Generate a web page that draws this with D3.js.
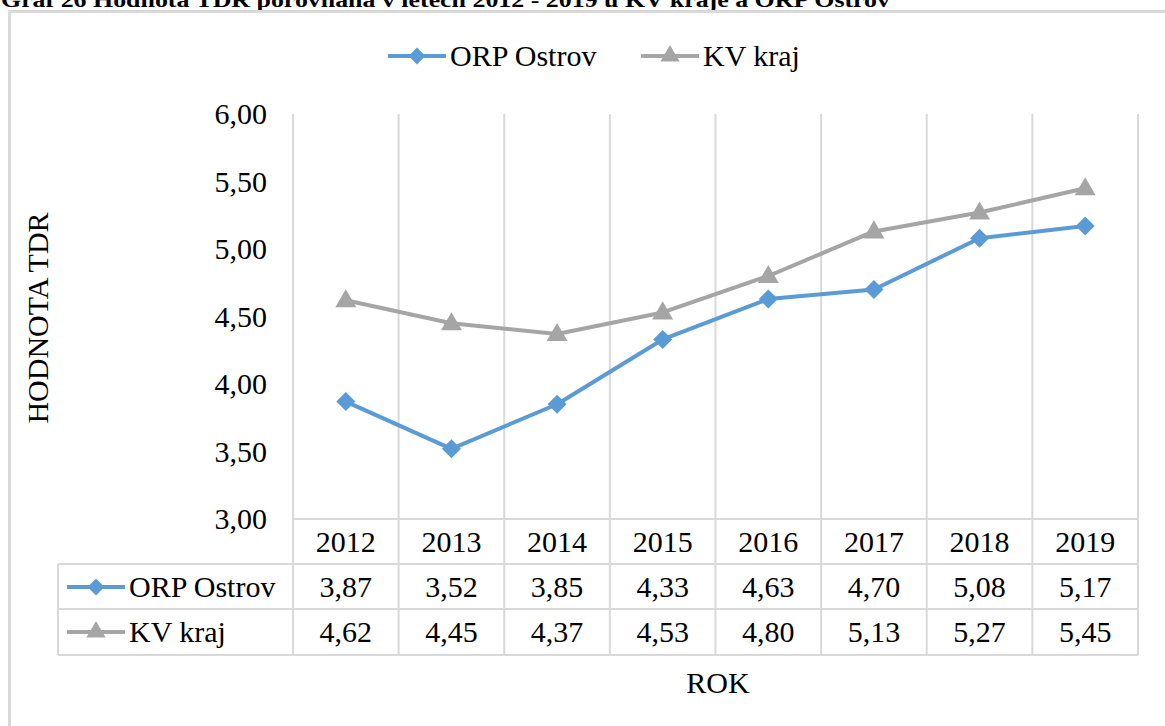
<!DOCTYPE html>
<html><head><meta charset="utf-8">
<script src="https://cdn.jsdelivr.net/npm/d3@7"></script>
<style>
html,body{margin:0;padding:0;background:#fff;}
svg{display:block;font-family:"Liberation Serif","Times New Roman",serif;}
</style></head>
<body>
<svg id="chart" width="1165" height="726"></svg>
<script>
const title = "Graf 26 Hodnota TDR porovnaná v letech 2012 - 2019 u KV kraje a ORP Ostrov";
const years = ["2012","2013","2014","2015","2016","2017","2018","2019"];
const orpOstrov = [3.87, 3.52, 3.85, 4.33, 4.63, 4.70, 5.08, 5.17];
const kvKraj = [4.62, 4.45, 4.37, 4.53, 4.80, 5.13, 5.27, 5.45];
const yTicks = [3.0, 3.5, 4.0, 4.5, 5.0, 5.5, 6.0];
const seriesNames = ["ORP Ostrov", "KV kraj"];
const yTitle = "HODNOTA  TDR";
const xTitle = "ROK";

const series = [
  {name: seriesNames[0], values: orpOstrov, color: "#5B9BD5", marker: d3.symbolDiamond2},
  {name: seriesNames[1], values: kvKraj, color: "#A5A5A5", marker: d3.symbolTriangle}
];

const svg = d3.select("#chart");
const gridColor = "#D9D9D9";
const fmt = v => d3.format(".2f")(v).replace(".", ",");

// title (cut off at top)
svg.append("text").attr("x", 1).attr("y", 7)
  .attr("font-weight", "bold").attr("font-size", 22)
  .attr("textLength", 889).attr("lengthAdjust", "spacingAndGlyphs")
  .text(title);

// outer frame
svg.append("rect").attr("x", 9.5).attr("y", 11.5).attr("width", 1300).attr("height", 800)
  .attr("fill", "none").attr("stroke", gridColor).attr("stroke-width", 3);

const plotLeft = 293, plotRight = 1138, plotTop = 114, plotBottom = 519;
const x = d3.scaleBand().domain(years).range([plotLeft, plotRight]).padding(0);
const y = d3.scaleLinear().domain([3, 6]).range([plotBottom, plotTop]);
const cx = d => x(d) + x.bandwidth() / 2;

// vertical gridlines (plot + header row)
const bounds = years.map(d => x(d)).concat([plotRight]);
const headerBottom = 564, row1Bottom = 609, row2Bottom = 655, tableLeft = 58;
svg.append("g").selectAll("line").data(bounds).join("line")
  .attr("x1", d => d).attr("x2", d => d)
  .attr("y1", plotTop).attr("y2", row2Bottom)
  .attr("stroke", gridColor).attr("stroke-width", 2);

// table horizontal lines
svg.append("line").attr("x1", plotLeft).attr("x2", plotRight).attr("y1", plotBottom).attr("y2", plotBottom)
  .attr("stroke", gridColor).attr("stroke-width", 2);
[headerBottom, row1Bottom, row2Bottom].forEach(yy => {
  svg.append("line").attr("x1", tableLeft).attr("x2", plotRight).attr("y1", yy).attr("y2", yy)
    .attr("stroke", gridColor).attr("stroke-width", 2);
});
svg.append("line").attr("x1", tableLeft).attr("x2", tableLeft).attr("y1", headerBottom).attr("y2", row2Bottom)
  .attr("stroke", gridColor).attr("stroke-width", 2);

// y axis labels
const yAxis = d3.axisLeft(y).tickValues(yTicks).tickFormat(fmt).tickSize(0).tickPadding(26);
const gy = svg.append("g").attr("transform", `translate(${plotLeft},0)`).call(yAxis);
gy.select(".domain").remove();
gy.selectAll("text").attr("font-size", 30).attr("font-family", "Liberation Serif").attr("fill", "#000");

// header years
svg.append("g").selectAll("text").data(years).join("text")
  .attr("x", d => cx(d)).attr("y", 552).attr("text-anchor", "middle")
  .attr("font-size", 30).text(d => d);

// lines and markers
const line = d3.line().x((d, i) => cx(years[i])).y(d => y(d));
series.forEach(s => {
  svg.append("path").datum(s.values).attr("d", line)
    .attr("fill", "none").attr("stroke", s.color).attr("stroke-width", 4).attr("stroke-linejoin", "round");
  const isTri = s.marker === d3.symbolTriangle;
  const sym = d3.symbol().type(s.marker).size(isTri ? 190 : 230);
  svg.append("g").selectAll("path").data(s.values).join("path")
    .attr("transform", (d, i) => `translate(${cx(years[i])},${y(d) + (isTri ? 1 : 0)})`)
    .attr("d", sym()).attr("fill", s.color);
});

// legend key helper
function key(g, s, x0, yc) {
  g.append("line").attr("x1", x0).attr("x2", x0 + 58).attr("y1", yc).attr("y2", yc)
    .attr("stroke", s.color).attr("stroke-width", 4);
  const sym = d3.symbol().type(s.marker).size(s.marker === d3.symbolTriangle ? 160 : 180);
  g.append("path").attr("transform", `translate(${x0 + 29},${yc})`).attr("d", sym()).attr("fill", s.color);
}

// data table rows
const rowsY = [587, 632];
series.forEach((s, si) => {
  const g = svg.append("g");
  key(g, s, 67, rowsY[si]);
  g.append("text").attr("x", 129).attr("y", rowsY[si] + 10).attr("font-size", 30).text(s.name);
  g.selectAll("text.v").data(s.values).join("text").attr("class", "v")
    .attr("x", (d, i) => cx(years[i])).attr("y", rowsY[si] + 10)
    .attr("text-anchor", "middle").attr("font-size", 30).text(d => fmt(d));
});

// top legend
const legX = [388, 641];
series.forEach((s, si) => {
  const g = svg.append("g");
  key(g, s, legX[si], 56);
  g.append("text").attr("x", legX[si] + 62).attr("y", 66).attr("font-size", 30).text(s.name);
});

// axis titles
svg.append("text").attr("transform", "translate(48,318) rotate(-90)")
  .attr("text-anchor", "middle").attr("font-size", 30).text(yTitle);
svg.append("text").attr("x", 718).attr("y", 693).attr("text-anchor", "middle")
  .attr("font-size", 30).text(xTitle);
</script>
</body></html>
